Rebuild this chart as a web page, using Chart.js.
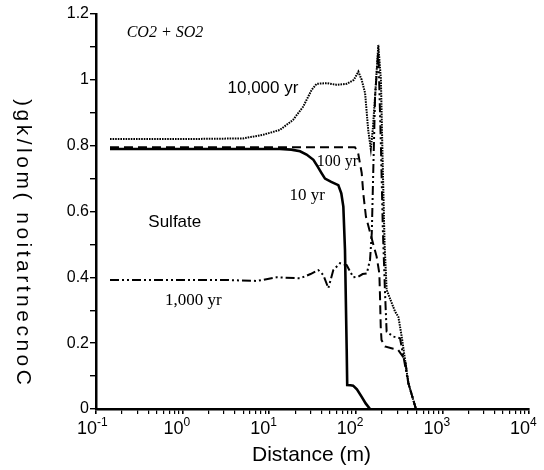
<!DOCTYPE html>
<html><head><meta charset="utf-8">
<script src="https://cdn.jsdelivr.net/npm/chart.js@4.4.1/dist/chart.umd.min.js"></script>
<style>html,body{margin:0;padding:0;background:#fff;}#wrap{width:544px;height:470px;position:relative;}</style>
</head><body><div id="wrap"><canvas id="c" width="544" height="470"></canvas></div>
<script>
// ---- data (distance in m, concentration in mol/kg) ----
const yr10X = [0.145, 13.3, 18, 22.7, 27, 32.4, 36, 40.4, 44.1, 52, 62.8, 68, 71.8, 75, 78.5, 79.6, 86.8, 93.2, 103, 117, 130, 146];
const yr10Y = [0.79, 0.79, 0.788, 0.783, 0.773, 0.757, 0.738, 0.716, 0.70, 0.69, 0.68, 0.655, 0.615, 0.483, 0.18, 0.073, 0.072, 0.071, 0.06, 0.037, 0.017, 0];

const yr100X = [0.145, 50, 97.7, 106, 117, 122, 131, 153, 174, 187, 190, 194, 198, 217, 271, 307, 370, 405, 495];
const yr100Y = [0.795, 0.795, 0.795, 0.78, 0.717, 0.655, 0.584, 0.517, 0.463, 0.412, 0.35, 0.25, 0.21, 0.19, 0.183, 0.18, 0.15, 0.078, 0];

const yr1000X = [0.145, 3, 7.2, 12.2, 22.7, 30, 36.9, 42.2, 48.2, 55, 65.7, 78.5, 93.5, 107, 120, 134, 146, 153, 160, 167, 182, 195, 205, 217, 227, 271, 324, 405, 495];
const yr1000Y = [0.392, 0.392, 0.389, 0.40, 0.397, 0.41, 0.422, 0.407, 0.367, 0.422, 0.443, 0.437, 0.40, 0.402, 0.41, 0.412, 0.453, 0.535, 0.75, 0.95, 1.09, 0.8, 0.55, 0.36, 0.235, 0.22, 0.215, 0.078, 0];

const yr10000X = [0.145, 1, 5, 8.5, 13.3, 18.8, 24.6, 31, 35.3, 46.1, 60, 78.5, 95, 107, 117, 128, 134, 139, 149, 157, 167, 182, 195, 204, 215, 227, 284, 310, 339, 405, 495];
const yr10000Y = [0.82, 0.82, 0.822, 0.833, 0.848, 0.878, 0.918, 0.97, 0.988, 0.99, 0.985, 0.988, 1.0, 1.025, 1.0, 0.96, 0.898, 0.848, 0.79, 0.848, 0.95, 1.106, 1.0, 0.757, 0.5, 0.362, 0.296, 0.28, 0.22, 0.078, 0];

// ---- ticks ----
const xDecades = [-1, 0, 1, 2, 3, 4];
const xDecadeLabels = ['-1', '0', '1', '2', '3', '4'];
const xMinorMult = [2, 3, 4, 5, 6, 7, 8, 9];
const yTickValues = [0, 0.1, 0.2, 0.3, 0.4, 0.5, 0.6, 0.7, 0.8, 0.9, 1.0, 1.1, 1.2];
const yTickLabels = ['0', '', '0.2', '', '0.4', '', '0.6', '', '0.8', '', '1', '', '1.2'];

// ---- text labels (data coordinates) ----
const notes = [
  {text: 'CO2 + SO2', x: 0.226, y: 1.131, font: 'italic 16px "Liberation Serif"'},
  {text: '10,000 yr', x: 3.3, y: 0.961, font: '17px "Liberation Sans"'},
  {text: '100 yr', x: 35.3, y: 0.739, font: '16px "Liberation Serif"'},
  {text: '10 yr', x: 17.1, y: 0.635, font: '17px "Liberation Serif"'},
  {text: 'Sulfate', x: 0.402, y: 0.552, font: '17px "Liberation Sans"'},
  {text: '1,000 yr', x: 0.627, y: 0.316, font: '17px "Liberation Serif"'}
];
const xTitle = 'Distance (m)';
const yTitle = 'Concentration (mol/kg)';

const xTicks = [];
xDecades.forEach((e, i) => {
  xTicks.push({value: Math.pow(10, e), major: true});
  if (i < xDecades.length - 1) xMinorMult.forEach(m => xTicks.push({value: m * Math.pow(10, e), major: false}));
});

const pts = (xs, ys) => xs.map((x, i) => ({x: x, y: ys[i]}));

const decor = {
  id: 'decor',
  afterDraw(chart) {
    const c = chart.ctx, xs = chart.scales.x, ys = chart.scales.y;
    c.save();
    c.fillStyle = '#000';
    // x tick labels with superscripts
    xDecades.forEach((e, i) => {
      const px = xs.getPixelForValue(Math.pow(10, e));
      c.font = '18px "Liberation Sans"';
      c.textAlign = 'right'; c.textBaseline = 'alphabetic';
      c.fillText('10', px + 1, 434);
      c.font = '12px "Liberation Sans"';
      c.textAlign = 'left';
      c.fillText(xDecadeLabels[i], px + 1, 426);
    });
    // x title
    c.font = '21px "Liberation Sans"';
    c.textAlign = 'center';
    c.fillText(xTitle, (chart.chartArea.left + chart.chartArea.right) / 2 - 1, 461);
    // y title: characters rotated clockwise, laid out from bottom to top
    c.font = '21px "Liberation Sans"';
    const chars = yTitle.split('');
    const spacing = 3.5;
    const widths = chars.map(ch => c.measureText(ch).width + spacing);
    const total = widths.reduce((a, b) => a + b, 0);
    let yPos = 242 + total / 2;
    chars.forEach((ch, i) => {
      const cy = yPos - widths[i] / 2;
      c.save();
      c.translate(23, cy);
      c.rotate(Math.PI / 2);
      c.textAlign = 'center'; c.textBaseline = 'middle';
      c.fillText(ch, 0, 0);
      c.restore();
      yPos -= widths[i];
    });
    // notes
    notes.forEach(n => {
      c.font = n.font;
      c.textAlign = 'left'; c.textBaseline = 'alphabetic';
      c.fillText(n.text, xs.getPixelForValue(n.x), ys.getPixelForValue(n.y));
    });
    c.restore();
  }
};

new Chart(document.getElementById('c').getContext('2d'), {
  type: 'scatter',
  data: {datasets: [
    {label: '10 yr', data: pts(yr10X, yr10Y), showLine: true, borderColor: '#000', borderWidth: 2.6, pointRadius: 0, tension: 0},
    {label: '100 yr', data: pts(yr100X, yr100Y), showLine: true, borderColor: '#000', borderWidth: 2, borderDash: [9, 5], pointRadius: 0, tension: 0},
    {label: '1,000 yr', data: pts(yr1000X, yr1000Y), showLine: true, borderColor: '#000', borderWidth: 2, borderDash: [9, 3, 2, 3, 2, 3], pointRadius: 0, tension: 0},
    {label: '10,000 yr', data: pts(yr10000X, yr10000Y), showLine: true, borderColor: '#000', borderWidth: 2, borderDash: [1.6, 1], pointRadius: 0, tension: 0}
  ]},
  options: {
    responsive: false, animation: false, devicePixelRatio: 1,
    layout: {padding: {left: 0, top: 14, right: 15, bottom: 0}},
    plugins: {legend: {display: false}, tooltip: {enabled: false}},
    scales: {
      x: {
        type: 'logarithmic', min: 0.1, max: 10000,
        afterBuildTicks: s => { s.ticks = xTicks.map(t => ({value: t.value, major: t.major})); },
        afterFit: s => { s.height = 61; },
        ticks: {display: false, autoSkip: false},
        grid: {drawOnChartArea: false, drawTicks: true, tickLength: 5, color: '#000',
               lineWidth: ctx => (ctx.tick && ctx.tick.major) ? 1.6 : 1.2},
        border: {display: true, color: '#000', width: 2.5}
      },
      y: {
        min: 0, max: 1.2,
        afterBuildTicks: s => { s.ticks = yTickValues.map(v => ({value: v})); },
        afterFit: s => { s.width = 96; },
        ticks: {autoSkip: false, color: '#000', padding: 1, font: {family: 'Liberation Sans', size: 16},
                callback: (v, i) => yTickLabels[i]},
        grid: {drawOnChartArea: false, drawTicks: true, tickLength: 6, color: '#000', lineWidth: 1.4},
        border: {display: true, color: '#000', width: 2.5}
      }
    }
  },
  plugins: [decor]
});
</script></body></html>
